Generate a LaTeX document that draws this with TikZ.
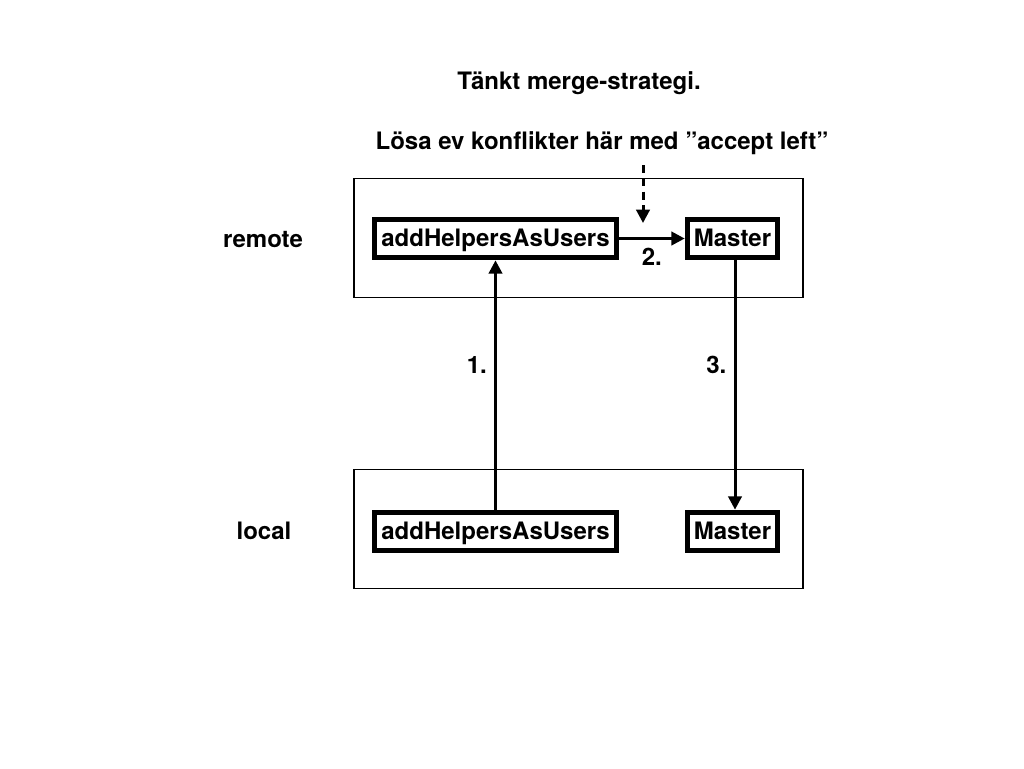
\documentclass[tikz,border=0pt]{standalone}
\usepackage{fontspec}
\setmainfont{TeX Gyre Heros}
\usetikzlibrary{arrows.meta}

\begin{document}
\begin{tikzpicture}[x=0.75pt, y=-0.75pt,
        txt/.style={font=\bfseries\fontsize{18}{20}\selectfont},
        repo/.style={draw, line width=1.1pt, minimum width=337pt, minimum height=89pt},
        branch/.style={txt, draw, line width=3.75pt, inner xsep=5pt, text height=13pt, text depth=1pt, minimum height=29pt},
        push/.style={-{Triangle[length=10pt, width=10pt]}, line width=2.25pt}]
        \useasboundingbox (0, 0) rectangle (1024, 768);

        \node[txt] at (579, 83)    (title) {Tänkt merge-strategi.};
        \node[txt] at (602, 143)   (fix) {Lösa ev konflikter här med ”accept left”};

        \node[repo] at (578.5, 238)   (remote) {};
        \node[repo] at (578.5, 529)   (local) {};
        \node[txt] at (263, 240)   (r_lbl) {remote};
        \node[txt] at (264, 531)   (l_lbl) {local};

        \node[branch] at (495.5, 238.5)   (r_add) {addHelpersAsUsers};
        \node[branch] at (732.5, 238.5)   (r_mst) {Master};
        \node[branch] at (495.5, 531.5)   (l_add) {addHelpersAsUsers};
        \node[branch] at (732.5, 531.5)   (l_mst) {Master};

        \draw [push] (l_add) -- (r_add) node[txt, pos=.58, left=2pt] {1.};
        \draw [push] (r_add) -- (r_mst) node[txt, midway, below=3pt] {2.};
        \draw [push] (r_mst.south -| 735, 0) -- (l_mst.north -| 735, 0) node[txt, pos=.42, left=2pt] {3.};

        \coordinate (d_top) at (643, 165);
        \coordinate (d_end) at (643, 223);
        \draw [push, dash pattern=on 6pt off 4pt] (d_top) -- (d_end);
    \end{tikzpicture}
\end{document}
